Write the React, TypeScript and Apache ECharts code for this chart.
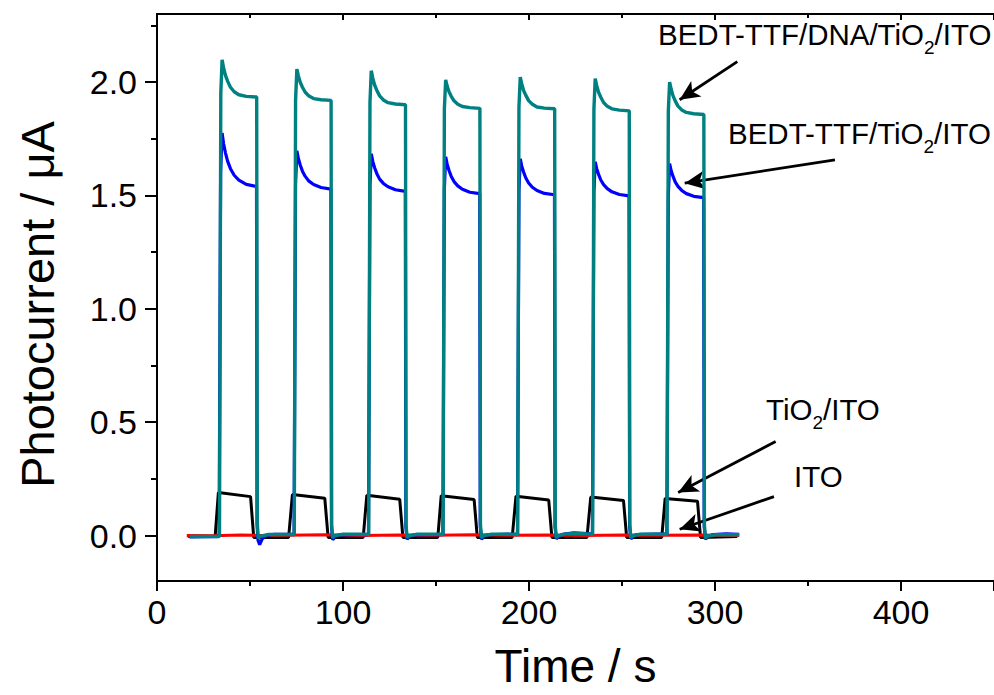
import React, { useEffect, useRef } from "react";
import * as echarts from "echarts";

// ---- Data (time in s, photocurrent in µA) ----
const itoData: [number, number][] = [
  [16, 0.001], [30, 0.0], [45, 0.003], [55, 0.001], [70, 0.002], [90, 0.004], [110, 0.001],
  [130, 0.003], [150, 0.002], [170, 0.004], [190, 0.002], [210, 0.003], [230, 0.001],
  [250, 0.003], [270, 0.002], [290, 0.003], [313, 0.001],
];

const tio2Data: [number, number][] = [
  [16.5, -0.003], [31.0, -0.003],
  [31.3, 0.0], [33.0, 0.19], [50.3, 0.172], [52.0, -0.008], [70.6, -0.008],
  [70.8, -0.005], [72.8, 0.181], [90.2, 0.165], [92.0, -0.008], [110.7, -0.008],
  [110.9, -0.005], [112.8, 0.178], [130.5, 0.16], [132.2, -0.008], [150.8, -0.008],
  [151.0, -0.005], [152.8, 0.176], [170.5, 0.159], [172.2, -0.008], [190.8, -0.008],
  [191.0, -0.005], [193.0, 0.174], [210.6, 0.157], [212.3, -0.008], [231.0, -0.008],
  [231.2, -0.005], [233.2, 0.17], [250.8, 0.155], [252.5, -0.008], [271.2, -0.008],
  [271.4, -0.005], [273.2, 0.164], [290.6, 0.152], [292.2, -0.008], [312, -0.004],
];

const bedtData: [number, number][] = [
  [17.5, -0.006], [25, -0.005], [33.1, -0.004],
  [33.4, 0.0], [34.2, 1.6], [35.0, 1.775], [35.8, 1.728], [36.8, 1.688], [38.0, 1.65], [39.5, 1.618], [41.5, 1.589], [44.0, 1.568], [48.0, 1.549], [53.5, 1.54],
  [53.8, 0.05], [54.3, -0.02], [55.2, -0.04], [56.5, -0.015], [58.5, 0.0], [63, 0.006], [73.4, 0.006],
  [73.7, 0.0], [74.5, 1.55], [75.2, 1.697], [76.0, 1.663], [77.0, 1.634], [78.2, 1.607], [79.7, 1.584], [81.7, 1.563], [84.2, 1.548], [88.2, 1.535], [93.5, 1.528],
  [93.8, 0.04], [94.5, -0.018], [95.8, -0.005], [98, 0.003], [113.4, 0.006],
  [113.7, 0.0], [114.5, 1.54], [115.2, 1.683], [116.0, 1.65], [117.0, 1.622], [118.2, 1.596], [119.7, 1.572], [121.7, 1.553], [124.2, 1.538], [128.2, 1.525], [133.5, 1.518],
  [133.8, 0.04], [134.5, -0.016], [135.8, -0.004], [138, 0.003], [153.4, 0.006],
  [153.7, 0.0], [154.5, 1.53], [155.2, 1.67], [156.0, 1.638], [157.0, 1.61], [158.2, 1.584], [159.7, 1.561], [161.7, 1.542], [164.2, 1.527], [168.2, 1.514], [173.5, 1.508],
  [173.8, 0.04], [174.5, -0.016], [175.8, -0.004], [178, 0.004], [193.5, 0.007],
  [193.8, 0.0], [194.6, 1.52], [195.3, 1.661], [196.1, 1.629], [197.1, 1.603], [198.3, 1.577], [199.8, 1.555], [201.8, 1.536], [204.3, 1.522], [208.3, 1.509], [213.7, 1.503],
  [214.0, 0.04], [214.7, -0.014], [216.0, -0.003], [218, 0.006], [224, 0.012], [233.8, 0.008],
  [234.1, 0.0], [234.9, 1.51], [235.6, 1.648], [236.4, 1.618], [237.4, 1.593], [238.6, 1.568], [240.1, 1.548], [242.1, 1.53], [244.6, 1.516], [248.6, 1.504], [253.8, 1.498],
  [254.1, 0.04], [254.8, -0.014], [256.1, -0.003], [258, 0.005], [273.8, 0.008],
  [274.1, 0.0], [274.9, 1.5], [275.6, 1.64], [276.4, 1.61], [277.4, 1.585], [278.6, 1.56], [280.1, 1.54], [282.1, 1.522], [284.6, 1.508], [288.6, 1.496], [293.9, 1.49],
  [294.2, 0.04], [294.9, -0.016], [296.2, -0.004], [299, 0.005], [306, 0.008], [313, 0.006],
];

const dnaData: [number, number][] = [
  [17.5, -0.004], [25, -0.004], [33.3, -0.003],
  [33.6, 0.0], [34.3, 1.95], [35.0, 2.098], [35.8, 2.062], [36.8, 2.029], [38.0, 2.003], [39.5, 1.977], [41.5, 1.957], [44.0, 1.944], [48.0, 1.937], [53.6, 1.934],
  [53.9, 0.06], [54.4, -0.012], [55.6, -0.002], [60, 0.005], [73.5, 0.005],
  [73.8, 0.0], [74.5, 1.92], [75.2, 2.057], [76.0, 2.027], [77.0, 1.999], [78.2, 1.977], [79.7, 1.955], [81.7, 1.938], [84.2, 1.927], [88.2, 1.922], [93.6, 1.919],
  [93.9, 0.05], [94.4, -0.01], [95.6, 0.0], [100, 0.006], [113.5, 0.006],
  [113.8, 0.0], [114.5, 1.91], [115.2, 2.05], [116.0, 2.017], [117.0, 1.987], [118.2, 1.963], [119.7, 1.939], [121.7, 1.921], [124.2, 1.909], [128.2, 1.903], [133.6, 1.9],
  [133.9, 0.05], [134.4, -0.01], [135.6, 0.0], [140, 0.006], [153.5, 0.006],
  [153.8, 0.0], [154.5, 1.88], [155.2, 2.01], [156.0, 1.982], [157.0, 1.957], [158.2, 1.937], [159.7, 1.917], [161.7, 1.902], [164.2, 1.892], [168.2, 1.887], [173.6, 1.884],
  [173.9, 0.05], [174.4, -0.01], [175.6, 0.0], [180, 0.006], [193.6, 0.006],
  [193.9, 0.0], [194.6, 1.89], [195.3, 2.022], [196.1, 1.991], [197.1, 1.963], [198.3, 1.941], [199.8, 1.918], [201.8, 1.902], [204.3, 1.89], [208.3, 1.885], [213.8, 1.882],
  [214.1, 0.05], [214.6, -0.01], [215.8, 0.0], [220, 0.008], [226, 0.01], [234.0, 0.006],
  [234.2, 0.0], [234.9, 1.88], [235.6, 2.015], [236.4, 1.984], [237.4, 1.955], [238.6, 1.933], [240.1, 1.91], [242.1, 1.893], [244.6, 1.882], [248.6, 1.876], [253.9, 1.873],
  [254.2, 0.05], [254.7, -0.01], [255.9, 0.0], [260, 0.006], [274.0, 0.006],
  [274.2, 0.0], [274.9, 1.87], [275.6, 2.0], [276.4, 1.969], [277.4, 1.94], [278.6, 1.917], [280.1, 1.894], [282.1, 1.877], [284.6, 1.866], [288.6, 1.86], [294.0, 1.857],
  [294.3, 0.05], [294.8, -0.012], [296.0, -0.002], [300, 0.004], [313, 0.004],
];

const yMajorTicks = [0, 0.5, 1.0, 1.5, 2.0];
const yMinorTicks = [0.25, 0.75, 1.25, 1.75, 2.25];

// arrows: [from, to] in data coordinates
const arrows: [[number, number], [number, number]][] = [
  [[312, 2.09], [281, 1.922]],
  [[364.5, 1.657], [283.7, 1.554]],
  [[332.6, 0.415], [280.2, 0.19]],
  [[331.7, 0.172], [281, 0.028]],
];

const FONT = "'Liberation Sans', Arial, Helvetica, sans-serif";

export default function App() {
  const ref = useRef<HTMLDivElement>(null);
  useEffect(() => {
    document.body.style.margin = "0";
    if (!ref.current) return;
    const chart = echarts.init(ref.current, null, { renderer: "svg" });
    const axisLine = { show: true, onZero: false, lineStyle: { color: "#000", width: 2 } };
    const richBase = { fontSize: 29.5, fontFamily: FONT, color: "#000", lineHeight: 46, verticalAlign: "middle" };
    const richSub = { fontSize: 19, fontFamily: FONT, color: "#000", lineHeight: 18, verticalAlign: "bottom" };
    const annText = (x: number, y: number, text: string) => ({
      type: "text",
      left: x,
      top: y,
      style: {
        text,
        rich: { a: richBase, s: richSub },
        fontFamily: FONT,
      },
    });
    chart.setOption({
      animation: false,
      backgroundColor: "#fff",
      grid: { left: 157, top: 14, width: 845, height: 567, containLabel: false },
      xAxis: [
        {
          type: "value",
          min: 0,
          max: 450,
          interval: 100,
          position: "bottom",
          name: "Time / s",
          nameLocation: "middle",
          nameGap: 62,
          nameTextStyle: { fontSize: 46, fontFamily: FONT, color: "#000" },
          axisLine,
          axisTick: { show: true, inside: false, length: 10, lineStyle: { color: "#000", width: 2 } },
          minorTick: { show: true, splitNumber: 2, length: 5, lineStyle: { color: "#000", width: 2 } },
          axisLabel: { fontSize: 34, fontFamily: FONT, color: "#000", margin: 14, showMaxLabel: false },
          splitLine: { show: false },
          minorSplitLine: { show: false },
        },
        {
          type: "value",
          min: 0,
          max: 450,
          interval: 100,
          position: "top",
          axisLine,
          axisTick: { show: true, inside: true, length: 6, lineStyle: { color: "#000", width: 2 } },
          minorTick: { show: true, splitNumber: 2, length: 4, lineStyle: { color: "#000", width: 2 } },
          axisLabel: { show: false },
          splitLine: { show: false },
        },
      ],
      yAxis: [
        {
          type: "value",
          min: -0.2,
          max: 2.3,
          position: "left",
          name: "Photocurrent / \u03bcA",
          nameLocation: "middle",
          nameGap: 96,
          nameTextStyle: { fontSize: 47, fontFamily: FONT, color: "#000", padding: [0, 14, 0, 0] },
          axisLine,
          axisTick: { show: true, inside: false, length: 12, customValues: yMajorTicks, lineStyle: { color: "#000", width: 2 } },
          axisLabel: {
            fontSize: 34,
            fontFamily: FONT,
            color: "#000",
            margin: 20,
            customValues: yMajorTicks,
            formatter: (v: number) => v.toFixed(1),
          },
          splitLine: { show: false },
        },
        {
          type: "value",
          min: -0.2,
          max: 2.3,
          position: "left",
          axisLine: { show: false },
          axisTick: { show: true, inside: false, length: 6, customValues: yMinorTicks, lineStyle: { color: "#000", width: 2 } },
          axisLabel: { show: false },
          splitLine: { show: false },
        },
      ],
      series: [
        {
          name: "TiO2/ITO",
          type: "line",
          data: tio2Data,
          showSymbol: false,
          lineStyle: { color: "#000", width: 3 },
          z: 2,
        },
        {
          name: "ITO",
          type: "line",
          data: itoData,
          showSymbol: false,
          lineStyle: { color: "#ff0000", width: 3 },
          z: 3,
        },
        {
          name: "BEDT-TTF/TiO2/ITO",
          type: "line",
          data: bedtData,
          showSymbol: false,
          lineStyle: { color: "#0000ff", width: 3.2 },
          z: 4,
        },
        {
          name: "BEDT-TTF/DNA/TiO2/ITO",
          type: "line",
          data: dnaData,
          showSymbol: false,
          lineStyle: { color: "#008080", width: 3.4 },
          z: 5,
          markLine: {
            silent: true,
            symbol: ["none", "arrow"],
            symbolSize: [14, 20],
            label: { show: false },
            lineStyle: { color: "#000", width: 2.8, type: "solid" },
            data: arrows.map(([a, b]) => [{ coord: a }, { coord: b }]),
          },
        },
      ],
      graphic: [
        annText(658, 19, "{a|BEDT-TTF/DNA/TiO}{s|2}{a|/ITO}"),
        annText(728, 118, "{a|BEDT-TTF/TiO}{s|2}{a|/ITO}"),
        annText(766, 394, "{a|TiO}{s|2}{a|/ITO}"),
        annText(794, 461, "{a|ITO}"),
      ],
    });
    return () => chart.dispose();
  }, []);
  return <div ref={ref} style={{ width: 994, height: 695 }} />;
}
